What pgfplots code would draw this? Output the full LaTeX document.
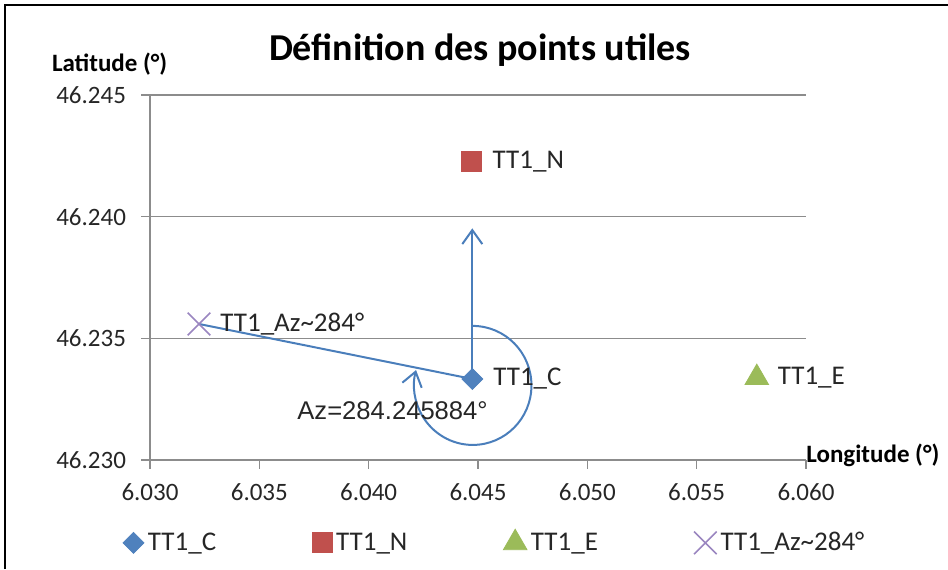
\documentclass[border=0pt]{standalone}
\usepackage{fontspec}
\setmainfont{Carlito}
\newfontfamily\arialfont{Liberation Sans}
\usepackage{pgfplots}
\pgfplotsset{compat=1.18}
\usetikzlibrary{arrows.meta}

\definecolor{cblue}{HTML}{4F81BD}
\definecolor{cred}{HTML}{C0504D}
\definecolor{cgreen}{HTML}{9BBB59}
\definecolor{cpurple}{HTML}{9A86C0}
\definecolor{lineblue}{HTML}{4A7EBB}
\definecolor{gridgray}{HTML}{8C8C8C}

\begin{document}
\begin{tikzpicture}
\useasboundingbox (0,0) rectangle (474pt,284.5pt);
\draw[line width=1pt] (2.5pt,0) -- (2.5pt,282pt) -- (474pt,282pt);
\begin{axis}[
  at={(75pt,54.5pt)}, anchor=south west,
  scale only axis, width=328pt, height=182.5pt,
  xmin=6.030, xmax=6.060, ymin=46.230, ymax=46.245,
  xtick={6.030,6.035,6.040,6.045,6.050,6.055,6.060},
  ytick={46.230,46.235,46.240,46.245},
  scaled ticks=false,
  axis x line*=bottom, axis y line*=left,
  axis line style={gridgray, line width=0.6pt},
  ymajorgrids, grid style={gridgray, line width=0.6pt},
  tick align=outside, major tick length=4.5pt,
  tick style={gridgray, line width=0.6pt},
  ticklabel style={font=\fontsize{12.5}{14}\selectfont, text=black!85},
  xticklabel style={yshift=-4pt},
  yticklabel style={xshift=-4pt},
  /pgf/number format/.cd, fixed, fixed zerofill, precision=3, assume math mode=true, /pgfplots/.cd,
  clip=false,
  legend columns=4,
  legend style={draw=none, fill=none, at={(0.527,-0.227)}, anchor=center,
    font=\fontsize{13.5}{15}\selectfont, text=black!85,
    /tikz/every even column/.append style={column sep=46pt}},
  legend image code/.code={\draw[#1] plot coordinates {(0.2cm,0cm)};},
  nodes near coords style={anchor=west, xshift=7pt, font=\fontsize{13.5}{15}\selectfont, text=black!85},
]
% fleches (azimut)
\draw[lineblue, line width=1pt, -{Straight Barb[length=7pt,width=10pt]}]
  (axis cs:6.04474,46.23333) -- (axis cs:6.04474,46.23952);
\draw[lineblue, line width=1pt] (axis cs:6.03224,46.23559) -- (axis cs:6.04474,46.23333);
\draw[lineblue, line width=1pt, -{Straight Barb[length=7pt,width=10pt]}]
  (axis cs:6.04476,46.23551) arc[start angle=90, end angle=-195, x radius=29.35pt, y radius=29.75pt];

\addplot[only marks, mark=square*, mark size=3.7pt, mark options={rotate=45, fill=cblue, draw=cblue},
  nodes near coords={TT1\_C}] coordinates {(6.04474,46.23333)};
\addlegendentry{TT1\_C}
\addplot[only marks, mark=square*, mark size=5pt, mark options={fill=cred, draw=cred},
  nodes near coords={TT1\_N}] coordinates {(6.04471,46.24226)};
\addlegendentry{TT1\_N}
\addplot[only marks, mark=triangle*, mark size=6.8pt, mark options={fill=cgreen, draw=cgreen},
  nodes near coords={TT1\_E}] coordinates {(6.05775,46.23338)};
\addlegendentry{TT1\_E}
\addplot[only marks, mark=x, mark size=8pt, mark options={draw=cpurple, line width=0.8pt},
  nodes near coords={TT1\_Az\textasciitilde 284°}] coordinates {(6.03224,46.23559)};
\addlegendentry{TT1\_Az\textasciitilde 284°}
\end{axis}
\node[font=\bfseries\fontsize{19}{22}\selectfont] at (240pt,259.5pt) {Définition des points utiles};
\node[anchor=west, inner sep=0, font=\bfseries\fontsize{12.5}{15}\selectfont] at (25.8pt,252.5pt) {Latitude (°)};
\node[anchor=west, inner sep=0, font=\bfseries\fontsize{12.5}{15}\selectfont] at (403pt,57pt) {Longitude (°)};
\node[anchor=west, inner sep=0, font=\arialfont\fontsize{12.8}{15}\selectfont, text=black!85] at (148.5pt,79pt) {Az=284.245884°};
\end{tikzpicture}
\end{document}
